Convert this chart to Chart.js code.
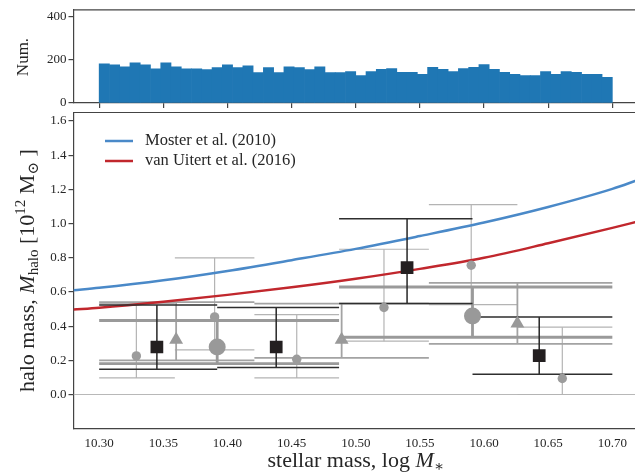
<!DOCTYPE html>
<html><head><meta charset="utf-8">
<script src="https://cdn.jsdelivr.net/npm/chart.js@4.4.1/dist/chart.umd.min.js"></script>
<style>
html,body{margin:0;padding:0;background:#fff;overflow:hidden;width:635px;height:472px}
#wrap{position:relative;width:635px;height:472px;overflow:hidden;background:#fff}
canvas{position:absolute;left:0;top:0}
</style></head><body>
<div id="wrap">
<canvas id="main" width="640" height="472"></canvas>
<canvas id="hist" width="640" height="118"></canvas>
</div>
<script>
// ---------- data ----------
const X_MIN = 10.28, X_MAX = 10.72;
const Y_MIN = -0.2, Y_MAX = 1.65;
const H_MAX = 430;
const xTicks = [10.30, 10.35, 10.40, 10.45, 10.50, 10.55, 10.60, 10.65, 10.70];
const yTicks = [0.0, 0.2, 0.4, 0.6, 0.8, 1.0, 1.2, 1.4, 1.6];
const histTicks = [0, 200, 400];

const HIST_START = 10.30, HIST_BIN = 0.008;
const histCounts = [181,176,167,185,176,158,185,167,158,158,154,163,176,163,172,140,163,140,167,163,
                    154,167,140,140,145,127,145,155,159,141,141,132,164,155,145,159,164,177,155,141,
                    132,127,127,145,132,145,141,132,132,118];

const mosterX = [10.28, 10.30, 10.35, 10.40, 10.45, 10.50, 10.55, 10.60, 10.65, 10.70, 10.72];
const mosterY = [0.610, 0.624, 0.668, 0.723, 0.786, 0.852, 0.927, 1.006, 1.097, 1.203, 1.255];
const uitertX = [10.28, 10.30, 10.35, 10.40, 10.45, 10.50, 10.55, 10.60, 10.65, 10.70, 10.72];
const uitertY = [0.497, 0.508, 0.543, 0.583, 0.627, 0.677, 0.735, 0.800, 0.885, 0.975, 1.012];

// black squares (4 bins)
const sqX = [10.345, 10.438, 10.540, 10.643];
const sqY = [0.278, 0.278, 0.743, 0.228];
const sqLo = [0.148, 0.158, 0.532, 0.119];
const sqHi = [0.524, 0.509, 1.029, 0.454];
const sqBinLo = [10.300, 10.392, 10.487, 10.591];
const sqBinHi = [10.392, 10.487, 10.591, 10.700];

// small grey circles (6 bins)
const scX = [10.329, 10.390, 10.454, 10.522, 10.590, 10.661];
const scY = [0.226, 0.454, 0.206, 0.509, 0.756, 0.094];
const scLo = [0.097, 0.261, 0.097, 0.312, 0.526, 0.000];
const scHi = [0.532, 0.800, 0.468, 0.850, 1.111, 0.394];
const scBinLo = [10.300, 10.359, 10.421, 10.487, 10.557, 10.626];
const scBinHi = [10.359, 10.421, 10.487, 10.557, 10.626, 10.700];

// grey triangles (3 bins)
const trX = [10.360, 10.489, 10.626];
const trY = [0.320, 0.320, 0.415];
const trLo = [0.200, 0.214, 0.296];
const trHi = [0.541, 0.532, 0.653];
const trBinLo = [10.300, 10.421, 10.557];
const trBinHi = [10.421, 10.557, 10.700];

// large grey circles (2 bins)
const bcX = [10.392, 10.591];
const bcY = [0.278, 0.460];
const bcLo = [0.181, 0.335];
const bcHi = [0.433, 0.629];
const bcBinLo = [10.300, 10.487];
const bcBinHi = [10.487, 10.700];

// ---------- style ----------
const SERIF = "'Liberation Serif', 'Times New Roman', 'DejaVu Serif', serif";
const SPINE = '#444444';
const TXT = '#262626';
Chart.defaults.font.family = SERIF;
Chart.defaults.font.size = 13;
Chart.defaults.color = TXT;

const pts = (xs, ys) => xs.map((x, i) => ({x: x, y: ys[i]}));
function vertSegs(xs, lo, hi) {
  const d = [];
  xs.forEach((x, i) => { d.push({x: x, y: lo[i]}, {x: x, y: hi[i]}, {x: x, y: null}); });
  return d;
}
function capSegs(bl, bh, lo, hi) {
  const d = [];
  bl.forEach((a, i) => {
    const b = bh[i];
    d.push({x: a, y: hi[i]}, {x: b, y: hi[i]}, {x: b, y: null});
    d.push({x: a, y: lo[i]}, {x: b, y: lo[i]}, {x: b, y: null});
  });
  return d;
}
const segDs = (data, color, w, order) => ({type: 'line', data: data, borderColor: color, borderWidth: w,
  pointRadius: 0, fill: false, spanGaps: false, tension: 0, order: order});
const ptDs = (data, color, style, r, order) => ({type: 'line', data: data, showLine: false,
  pointStyle: style, pointRadius: r, pointBackgroundColor: color, pointBorderColor: color,
  pointBorderWidth: 0, order: order});

function drawRich(ctx, segs, cx, cy, rot) {
  ctx.save();
  ctx.translate(cx, cy);
  ctx.rotate(rot);
  let total = 0;
  segs.forEach(s => { ctx.font = s.f; s.w = ctx.measureText(s.t).width + (s.gap || 0); total += s.w; });
  let x = -total / 2;
  ctx.textAlign = 'left';
  ctx.textBaseline = 'alphabetic';
  ctx.fillStyle = TXT;
  segs.forEach(s => { ctx.font = s.f; ctx.fillText(s.t, x, s.dy || 0); x += s.w; });
  ctx.restore();
}

const topSpine = {
  id: 'topSpine',
  afterDraw(chart) {
    const {ctx, chartArea: a} = chart;
    ctx.save();
    ctx.strokeStyle = SPINE; ctx.lineWidth = 1.2;
    ctx.beginPath(); ctx.moveTo(a.left, a.top); ctx.lineTo(a.right + 5, a.top); ctx.stroke();
    ctx.restore();
  }
};

// ---------- histogram ----------
const histData = histCounts.map((c, i) => ({x: HIST_START + HIST_BIN * (i + 0.5), y: c}));
new Chart(document.getElementById('hist'), {
  type: 'bar',
  data: {datasets: [{data: histData, backgroundColor: '#1f77b4', borderWidth: 0,
    barPercentage: 1.0, categoryPercentage: 1.0}]},
  options: {
    responsive: false, animation: false, events: [],
    layout: {autoPadding: false, padding: {left: 0, right: 2, top: 7, bottom: 9}},
    plugins: {legend: {display: false}, tooltip: {enabled: false}},
    scales: {
      x: {type: 'linear', min: X_MIN, max: X_MAX, offset: false,
        afterBuildTicks: ax => { ax.ticks = xTicks.map(v => ({value: v})); },
        afterFit: ax => { ax.height = 6; },
        grid: {offset: false, drawOnChartArea: false, drawTicks: true, tickLength: 5, color: SPINE, lineWidth: 1.2},
        border: {display: true, color: SPINE, width: 1.2},
        ticks: {display: false, autoSkip: false}},
      y: {type: 'linear', min: 0, max: H_MAX,
        afterBuildTicks: ax => { ax.ticks = histTicks.map(v => ({value: v})); },
        afterFit: ax => { ax.width = 73.5; },
        grid: {drawOnChartArea: false, drawTicks: true, tickLength: 5, color: SPINE, lineWidth: 1.2},
        border: {display: true, color: SPINE, width: 1.2},
        ticks: {padding: 2, autoSkip: false, font: {size: 13}, callback: v => String(v)}}
    }
  },
  plugins: [topSpine, {
    id: 'histLabel',
    afterDraw(chart) {
      drawRich(chart.ctx, [{t: 'Num.', f: '17px ' + SERIF}], 28, 57, -Math.PI / 2);
    }
  }]
});

// ---------- main ----------
const datasets = [
  segDs([{x: X_MIN, y: 0}, {x: X_MAX, y: 0}], '#b8b8b8', 1.2, 100),
  segDs(vertSegs(scX, scLo, scHi), '#b4b4b4', 1.2, 90),
  segDs(capSegs(scBinLo, scBinHi, scLo, scHi), '#b4b4b4', 1.2, 89),
  segDs(vertSegs(trX, trLo, trHi), '#a3a3a3', 1.8, 80),
  segDs(capSegs(trBinLo, trBinHi, trLo, trHi), '#a3a3a3', 1.8, 79),
  segDs(vertSegs(bcX, bcLo, bcHi), '#9a9a9a', 2.8, 70),
  segDs(capSegs(bcBinLo, bcBinHi, bcLo, bcHi), '#9a9a9a', 2.8, 69),
  Object.assign(segDs(pts(mosterX, mosterY), '#4a89c8', 2.5, 60), {cubicInterpolationMode: 'monotone', label: 'Moster et al. (2010)'}),
  Object.assign(segDs(pts(uitertX, uitertY), '#c1272d', 2.5, 59), {cubicInterpolationMode: 'monotone', label: 'van Uitert et al. (2016)'}),
  segDs(vertSegs(sqX, sqLo, sqHi), '#262626', 1.5, 50),
  segDs(capSegs(sqBinLo, sqBinHi, sqLo, sqHi), '#2e2e2e', 1.5, 49),
  ptDs(pts(scX, scY), '#9c9c9c', 'circle', 4.7, 40),
  ptDs(pts(trX, trY), '#999999', 'triangle', 8, 30),
  ptDs(pts(bcX, bcY), '#999999', 'circle', 8.5, 20),
  ptDs(pts(sqX, sqY), '#231f20', 'rect', 9, 10)
];

const legendItems = [
  {label: 'Moster et al. (2010)', color: '#4a89c8'},
  {label: 'van Uitert et al. (2016)', color: '#c1272d'}
];

const mainDecor = {
  id: 'mainDecor',
  afterDraw(chart) {
    const ctx = chart.ctx;
    ctx.save();
    legendItems.forEach((it, i) => {
      const y = 141 + i * 20;
      ctx.strokeStyle = it.color; ctx.lineWidth = 2.5;
      ctx.beginPath(); ctx.moveTo(105, y); ctx.lineTo(133, y); ctx.stroke();
      ctx.fillStyle = TXT; ctx.font = '16.5px ' + SERIF;
      ctx.textAlign = 'left'; ctx.textBaseline = 'middle';
      ctx.fillText(it.label, 145, y);
    });
    ctx.restore();
    const F = '22px ' + SERIF, FI = 'italic 22px ' + SERIF, FS = '15px ' + SERIF;
    drawRich(ctx, [
      {t: 'stellar mass, log ', f: F}, {t: 'M', f: FI}, {t: '\u2217', f: FS, dy: 4}
    ], (chart.chartArea.left + chart.chartArea.right) / 2, 467, 0);
    drawRich(ctx, [
      {t: 'halo mass, ', f: F}, {t: 'M', f: FI}, {t: 'halo', f: FS, dy: 4},
      {t: ' [10', f: F}, {t: '12', f: FS, dy: -9}, {t: ' M', f: F}, {t: '\u2299', f: FS, dy: 4}, {t: ' ]', f: F}
    ], 34, (chart.chartArea.top + chart.chartArea.bottom) / 2, -Math.PI / 2);
  }
};

new Chart(document.getElementById('main'), {
  type: 'line',
  data: {datasets: datasets},
  options: {
    responsive: false, animation: false, events: [],
    layout: {autoPadding: false, padding: {left: 0, right: 2, top: 112.5, bottom: 0}},
    plugins: {legend: {display: false}, tooltip: {enabled: false}},
    scales: {
      x: {type: 'linear', min: X_MIN, max: X_MAX,
        afterBuildTicks: ax => { ax.ticks = xTicks.map(v => ({value: v})); },
        afterFit: ax => { ax.height = 43.3; },
        grid: {display: true, drawOnChartArea: false, drawTicks: false},
        border: {display: true, color: SPINE, width: 1.2},
        ticks: {padding: 7, autoSkip: false, maxRotation: 0, font: {size: 13}, callback: v => Number(v).toFixed(2)}},
      y: {type: 'linear', min: Y_MIN, max: Y_MAX,
        afterBuildTicks: ax => { ax.ticks = yTicks.map(v => ({value: v})); },
        afterFit: ax => { ax.width = 73.5; },
        grid: {drawOnChartArea: false, drawTicks: true, tickLength: 5, color: SPINE, lineWidth: 1.2},
        border: {display: true, color: SPINE, width: 1.2},
        ticks: {padding: 2, autoSkip: false, font: {size: 13}, callback: v => Number(v).toFixed(1)}}
    }
  },
  plugins: [topSpine, mainDecor]
});
</script>
</body></html>
